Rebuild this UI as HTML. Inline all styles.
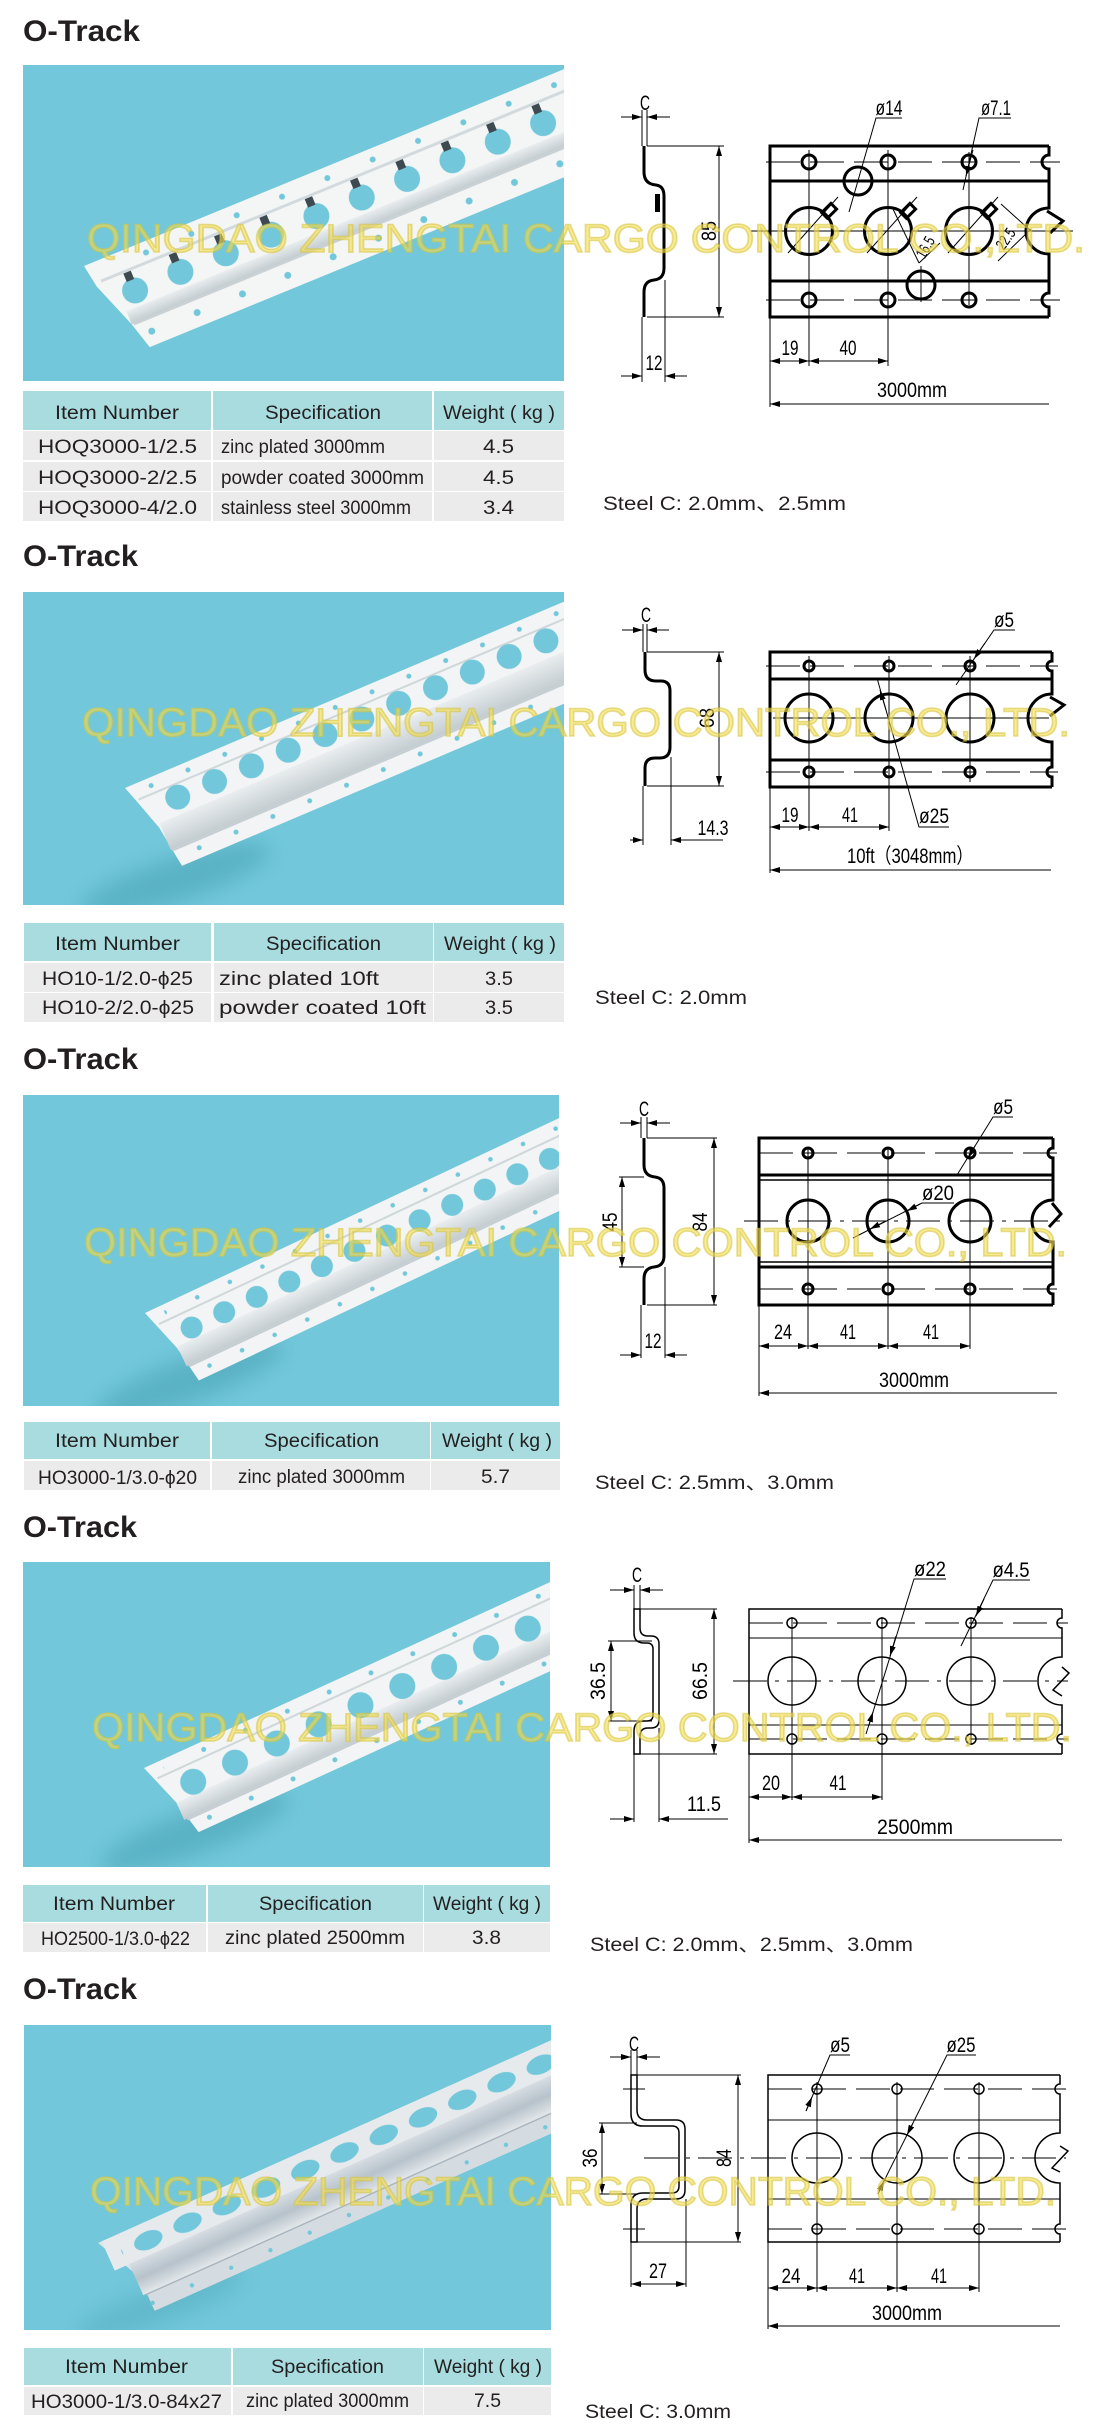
<!DOCTYPE html>
<html><head><meta charset="utf-8">
<style>
html,body{margin:0;padding:0;background:#fff;}
svg{display:block;}
.tt{font-family:"Liberation Sans",sans-serif;font-weight:bold;font-size:30px;fill:#231f20;}
.th{font-family:"Liberation Sans",sans-serif;font-size:19px;fill:#231f20;}
.td{font-family:"Liberation Sans","DejaVu Sans",sans-serif;font-size:19px;fill:#231f20;}
.st{font-family:"Liberation Sans","Noto Sans CJK SC",sans-serif;font-size:19px;fill:#231f20;}
.dm{font-family:"Liberation Sans","Noto Sans CJK SC",sans-serif;font-size:21px;fill:#000;}
.wm{font-family:"Liberation Sans",sans-serif;font-size:40px;fill:rgb(241,222,81);fill-opacity:.6;stroke:rgb(215,195,60);stroke-opacity:.55;stroke-width:1.6;}
.k{stroke:#000;fill:none;stroke-width:3;}
.k2{stroke:#000;fill:none;stroke-width:1.5;}
.n{stroke:#000;fill:none;stroke-width:1;}
.ds{stroke:#000;fill:none;stroke-width:1;stroke-dasharray:34 10;}
.dc{stroke:#000;fill:none;stroke-width:1;stroke-dasharray:34 8 4 8;}
.hb{fill:#a8dcdf;}
.rb{fill:#ebebeb;}
</style></head><body>
<svg width="1100" height="2427" viewBox="0 0 1100 2427" xmlns="http://www.w3.org/2000/svg">
<defs>
<marker id="ar" viewBox="0 0 10 6" refX="10" refY="3" markerWidth="10" markerHeight="6" markerUnits="userSpaceOnUse" orient="auto-start-reverse"><path d="M0,0L10,3L0,6z" fill="#000"/></marker>
<filter id="bl" x="-50%" y="-50%" width="200%" height="200%"><feGaussianBlur stdDeviation="10"/></filter>
<linearGradient id="gs" x1="0" y1="0" x2="0" y2="1"><stop offset="0" stop-color="#e9edef"/><stop offset="1" stop-color="#c3ccd0"/></linearGradient>
<linearGradient id="g5" x1="0" y1="0" x2="0" y2="1"><stop offset="0" stop-color="#d6dde3"/><stop offset=".5" stop-color="#b7c2ca"/><stop offset="1" stop-color="#e2e7ea"/></linearGradient>
<clipPath id="c1"><rect x="23" y="65" width="541" height="316"/></clipPath>
<clipPath id="c2"><rect x="23" y="592" width="541" height="313"/></clipPath>
<clipPath id="c3"><rect x="23" y="1095" width="536" height="311"/></clipPath>
<clipPath id="c4"><rect x="23" y="1562" width="527" height="305"/></clipPath>
<clipPath id="c5"><rect x="24" y="2025" width="527" height="305"/></clipPath>
<pattern id="p1" width="49" height="100" x="13.5" patternUnits="userSpaceOnUse">
 <circle cx="24.5" cy="42" r="13" fill="#72c8da"/>
 <rect x="20" y="22" width="8" height="9" fill="#3d4a50"/>
 <circle cx="0" cy="11" r="3" fill="#72c8da"/><circle cx="49" cy="11" r="3" fill="#72c8da"/>
 <circle cx="24.5" cy="86" r="3.5" fill="#72c8da"/>
</pattern>
<pattern id="p2" width="40" height="94" x="25" patternUnits="userSpaceOnUse">
 <circle cx="20" cy="29" r="12.5" fill="#72c8da"/>
 <circle cx="0" cy="8" r="2.5" fill="#72c8da"/><circle cx="40" cy="8" r="2.5" fill="#72c8da"/>
 <circle cx="20" cy="84" r="2.5" fill="#72c8da"/>
</pattern>
<pattern id="p3" width="36" height="84" x="18" patternUnits="userSpaceOnUse">
 <circle cx="18" cy="33" r="11" fill="#72c8da"/>
 <circle cx="0" cy="8" r="2.3" fill="#72c8da"/><circle cx="36" cy="8" r="2.3" fill="#72c8da"/>
 <circle cx="18" cy="75" r="2.3" fill="#72c8da"/>
</pattern>
<pattern id="p4" width="46" height="81" x="16" patternUnits="userSpaceOnUse">
 <circle cx="23" cy="33" r="13" fill="#72c8da"/>
 <circle cx="0" cy="8" r="2.5" fill="#72c8da"/><circle cx="46" cy="8" r="2.5" fill="#72c8da"/>
 <circle cx="23" cy="72" r="2.5" fill="#72c8da"/>
</pattern>
<pattern id="p5" width="43" height="85" x="25.5" patternUnits="userSpaceOnUse">
 <ellipse cx="21.5" cy="18" rx="15" ry="9" fill="#72c8da"/>
 <circle cx="0" cy="77" r="2.2" fill="#72c8da"/><circle cx="43" cy="77" r="2.2" fill="#72c8da"/>
</pattern>
</defs>

<!-- ================= SECTION 1 ================= -->
<text class="tt" x="23" y="41" textLength="117" lengthAdjust="spacingAndGlyphs">O-Track</text>
<g clip-path="url(#c1)">
<rect x="23" y="65" width="541" height="316" fill="#72c8da"/>
<g transform="translate(84,266) rotate(-22.3)">
 <path d="M0,0 H720 V100 H30 L22,72 L4,24 Z" fill="#f4f6f6"/>
 <rect x="10" y="19" width="710" height="3" fill="#d3dadd"/>
 <rect x="22" y="58" width="698" height="14" fill="url(#gs)"/>
 <rect x="24" y="72" width="696" height="2" fill="#c9d1d4"/>
 <rect x="20" y="0" width="700" height="100" fill="url(#p1)"/>
</g>
</g>
<rect class="hb" x="23" y="391" width="188" height="39"/><rect class="hb" x="213" y="391" width="219" height="39"/><rect class="hb" x="434" y="391" width="130" height="39"/>
<rect class="rb" x="23" y="431" width="188" height="29"/><rect class="rb" x="213" y="431" width="219" height="29"/><rect class="rb" x="434" y="431" width="130" height="29"/>
<rect class="rb" x="23" y="462" width="188" height="29"/><rect class="rb" x="213" y="462" width="219" height="29"/><rect class="rb" x="434" y="462" width="130" height="29"/>
<rect class="rb" x="23" y="492" width="188" height="29"/><rect class="rb" x="213" y="492" width="219" height="29"/><rect class="rb" x="434" y="492" width="130" height="29"/>
<text class="th" x="55" y="419" textLength="124" lengthAdjust="spacingAndGlyphs">Item Number</text>
<text class="th" x="265" y="419" textLength="116" lengthAdjust="spacingAndGlyphs">Specification</text>
<text class="th" x="443" y="419" textLength="112" lengthAdjust="spacingAndGlyphs">Weight ( kg )</text>
<text class="td" x="38" y="453" textLength="159" lengthAdjust="spacingAndGlyphs">HOQ3000-1/2.5</text>
<text class="td" x="221" y="453" textLength="164" lengthAdjust="spacingAndGlyphs">zinc plated 3000mm</text>
<text class="td" x="483" y="453" textLength="31" lengthAdjust="spacingAndGlyphs">4.5</text>
<text class="td" x="38" y="484" textLength="159" lengthAdjust="spacingAndGlyphs">HOQ3000-2/2.5</text>
<text class="td" x="221" y="484" textLength="203" lengthAdjust="spacingAndGlyphs">powder coated  3000mm</text>
<text class="td" x="483" y="484" textLength="31" lengthAdjust="spacingAndGlyphs">4.5</text>
<text class="td" x="38" y="514" textLength="159" lengthAdjust="spacingAndGlyphs">HOQ3000-4/2.0</text>
<text class="td" x="221" y="514" textLength="190" lengthAdjust="spacingAndGlyphs">stainless steel 3000mm</text>
<text class="td" x="483" y="514" textLength="31" lengthAdjust="spacingAndGlyphs">3.4</text>
<text class="st" x="603" y="510" textLength="243" lengthAdjust="spacingAndGlyphs">Steel C: 2.0mm、2.5mm</text>

<!-- drawing 1 -->
<path class="k" stroke-width="4" d="M644,146 V172 Q644,184 656,185 Q664,186 664,196 V268 Q664,279 654,280 Q644,281 644,292 V317"/>
<rect x="655" y="194" width="5" height="18" fill="#000"/>
<line class="n" x1="642" y1="110" x2="642" y2="146"/>
<line class="n" x1="647" y1="110" x2="647" y2="146"/>
<line class="n" x1="621" y1="117" x2="642" y2="117" marker-end="url(#ar)"/>
<line class="n" x1="647" y1="117" x2="670" y2="117" marker-start="url(#ar)"/>
<text class="dm" x="645" y="110" text-anchor="middle" textLength="10" lengthAdjust="spacingAndGlyphs">C</text>
<line class="n" x1="647" y1="146" x2="724" y2="146"/>
<line class="n" x1="647" y1="317" x2="724" y2="317"/>
<line class="n" x1="719" y1="146" x2="719" y2="317" marker-start="url(#ar)" marker-end="url(#ar)"/>
<text class="dm" transform="translate(716,231) rotate(-90)" text-anchor="middle" textLength="20" lengthAdjust="spacingAndGlyphs">85</text>
<line class="n" x1="642" y1="317" x2="642" y2="382"/>
<line class="n" x1="665" y1="280" x2="665" y2="382"/>
<line class="n" x1="621" y1="376" x2="642" y2="376" marker-end="url(#ar)"/>
<line class="n" x1="665" y1="376" x2="687" y2="376" marker-start="url(#ar)"/>
<text class="dm" x="654" y="370" text-anchor="middle" textLength="17" lengthAdjust="spacingAndGlyphs">12</text>
<path class="k" d="M1049,146 H770 V317 H1049"/>
<path class="k" d="M1049,146 V155 A7,7 0 0 0 1049,169 V208 A23,23 0 0 0 1049,254 V293 A7,7 0 0 0 1049,307 V317"/>
<polyline class="k" points="1047,211 1063,221 1050,233"/>
<line class="k" x1="770" y1="181" x2="1049" y2="181"/>
<line class="k" x1="770" y1="281" x2="1049" y2="281"/>
<line class="ds" x1="766" y1="162" x2="1060" y2="162"/>
<line class="ds" x1="766" y1="300" x2="1060" y2="300"/>
<line class="n" x1="751" y1="231" x2="1073" y2="231"/>
<g class="k" stroke-width="2.5">
<circle cx="809" cy="162" r="7"/><circle cx="888" cy="162" r="7"/><circle cx="969" cy="162" r="7"/>
<circle cx="809" cy="300" r="7"/><circle cx="888" cy="300" r="7"/><circle cx="969" cy="300" r="7"/>
<circle cx="809" cy="231" r="23.5"/><circle cx="888" cy="231" r="23.5"/><circle cx="969" cy="231" r="23.5"/>
<circle cx="858" cy="181" r="14"/><circle cx="921" cy="285" r="14"/>
<g transform="translate(809,231) rotate(-45)"><rect x="22" y="-4" width="13" height="8"/></g>
<g transform="translate(888,231) rotate(-45)"><rect x="22" y="-4" width="13" height="8"/></g>
<g transform="translate(969,231) rotate(-45)"><rect x="22" y="-4" width="13" height="8"/></g>
</g>
<line class="n" x1="788" y1="253" x2="838" y2="197"/>
<line class="n" x1="867" y1="253" x2="917" y2="197"/>
<line class="n" x1="948" y1="253" x2="998" y2="197"/>
<line class="n" x1="809" y1="150" x2="809" y2="366"/>
<line class="n" x1="888" y1="150" x2="888" y2="366"/>
<line class="n" x1="969" y1="152" x2="969" y2="305"/>
<line class="n" x1="921" y1="266" x2="921" y2="302"/>
<polyline class="n" points="849,212 876,118 902,118"/>
<text class="dm" x="889" y="115" text-anchor="middle" textLength="27" lengthAdjust="spacingAndGlyphs">ø14</text>
<polyline class="n" points="963,190 979,118 1011,118"/>
<line class="n" x1="973" y1="150" x2="966" y2="176" marker-end="url(#ar)"/>
<text class="dm" x="996" y="115" text-anchor="middle" textLength="30" lengthAdjust="spacingAndGlyphs">ø7.1</text>
<line class="n" x1="892" y1="207" x2="919" y2="263"/>
<line class="n" x1="919" y1="263" x2="940" y2="243"/>
<text class="dm" style="font-size:16px" transform="translate(930,250) rotate(-60)" text-anchor="middle" textLength="22" lengthAdjust="spacingAndGlyphs">16.5</text>
<line class="n" x1="1001" y1="204" x2="1031" y2="231"/>
<line class="n" x1="998" y1="261" x2="1031" y2="229"/>
<text class="dm" style="font-size:16px" transform="translate(1010,242) rotate(-55)" text-anchor="middle" textLength="22" lengthAdjust="spacingAndGlyphs">22.5</text>
<line class="n" x1="770" y1="317" x2="770" y2="407"/>
<line class="n" x1="770" y1="361" x2="809" y2="361" marker-start="url(#ar)" marker-end="url(#ar)"/>
<line class="n" x1="809" y1="361" x2="888" y2="361" marker-start="url(#ar)" marker-end="url(#ar)"/>
<text class="dm" x="790" y="355" text-anchor="middle" textLength="17" lengthAdjust="spacingAndGlyphs">19</text>
<text class="dm" x="848" y="355" text-anchor="middle" textLength="17" lengthAdjust="spacingAndGlyphs">40</text>
<line class="n" x1="770" y1="404" x2="1049" y2="404" marker-start="url(#ar)"/>
<text class="dm" x="912" y="397" text-anchor="middle" textLength="70" lengthAdjust="spacingAndGlyphs">3000mm</text>

<!-- ================= SECTION 2 ================= -->
<text class="tt" x="23" y="566" textLength="115" lengthAdjust="spacingAndGlyphs">O-Track</text>
<g clip-path="url(#c2)">
<rect x="23" y="592" width="541" height="313" fill="#72c8da"/>
<ellipse cx="175" cy="880" rx="100" ry="22" transform="rotate(-18 175 880)" fill="#3e97ab" opacity=".45" filter="url(#bl)"/>
<g transform="translate(125,788) rotate(-23)">
 <path d="M0,0 H720 V94 H22 L16,50 L6,18 Z" fill="#f2f4f5"/>
 <rect x="8" y="15" width="712" height="2" fill="#cfd7da"/>
 <rect x="18" y="46" width="702" height="29" fill="url(#gs)"/>
 <rect x="20" y="75" width="700" height="2" fill="#c5ced2"/>
 <rect x="20" y="0" width="700" height="94" fill="url(#p2)"/>
</g>
</g>
<rect class="hb" x="24" y="923" width="187" height="38"/><rect class="hb" x="214" y="923" width="219" height="38"/><rect class="hb" x="434" y="923" width="130" height="38"/>
<rect class="rb" x="24" y="963" width="187" height="29"/><rect class="rb" x="214" y="963" width="219" height="29"/><rect class="rb" x="434" y="963" width="130" height="29"/>
<rect class="rb" x="24" y="993" width="187" height="29"/><rect class="rb" x="214" y="993" width="219" height="29"/><rect class="rb" x="434" y="993" width="130" height="29"/>
<text class="th" x="55" y="950" textLength="125" lengthAdjust="spacingAndGlyphs">Item Number</text>
<text class="th" x="266" y="950" textLength="115" lengthAdjust="spacingAndGlyphs">Specification</text>
<text class="th" x="444" y="950" textLength="112" lengthAdjust="spacingAndGlyphs">Weight ( kg )</text>
<text class="td" x="42" y="985" textLength="151" lengthAdjust="spacingAndGlyphs">HO10-1/2.0-ϕ25</text>
<text class="td" x="219" y="985" textLength="160" lengthAdjust="spacingAndGlyphs">zinc plated 10ft</text>
<text class="td" x="485" y="985" textLength="28" lengthAdjust="spacingAndGlyphs">3.5</text>
<text class="td" x="42" y="1014" textLength="152" lengthAdjust="spacingAndGlyphs">HO10-2/2.0-ϕ25</text>
<text class="td" x="219" y="1014" textLength="207" lengthAdjust="spacingAndGlyphs">powder coated  10ft</text>
<text class="td" x="485" y="1014" textLength="28" lengthAdjust="spacingAndGlyphs">3.5</text>
<text class="st" x="595" y="1004" textLength="152" lengthAdjust="spacingAndGlyphs">Steel C: 2.0mm</text>

<!-- drawing 2 -->
<path class="k" stroke-width="4" d="M645,652 V670 Q645,681 656,681 H661 Q670,681 670,691 V747 Q670,758 660,758 H655 Q645,758 645,768 V786"/>
<line class="n" x1="643" y1="624" x2="643" y2="652"/>
<line class="n" x1="647" y1="624" x2="647" y2="652"/>
<line class="n" x1="622" y1="630" x2="643" y2="630" marker-end="url(#ar)"/>
<line class="n" x1="647" y1="630" x2="669" y2="630" marker-start="url(#ar)"/>
<text class="dm" x="646" y="622" text-anchor="middle" textLength="10" lengthAdjust="spacingAndGlyphs">C</text>
<line class="n" x1="647" y1="652" x2="724" y2="652"/>
<line class="n" x1="647" y1="786" x2="724" y2="786"/>
<line class="n" x1="719" y1="652" x2="719" y2="786" marker-start="url(#ar)" marker-end="url(#ar)"/>
<text class="dm" transform="translate(714,718) rotate(-90)" text-anchor="middle" textLength="20" lengthAdjust="spacingAndGlyphs">68</text>
<line class="n" x1="643" y1="786" x2="643" y2="845"/>
<line class="n" x1="671" y1="757" x2="671" y2="845"/>
<line class="n" x1="630" y1="840" x2="643" y2="840" marker-end="url(#ar)"/>
<line class="n" x1="671" y1="840" x2="723" y2="840" marker-start="url(#ar)"/>
<text class="dm" x="713" y="835" text-anchor="middle" textLength="31" lengthAdjust="spacingAndGlyphs">14.3</text>
<path class="k" d="M1052,652 H770 V787 H1052"/>
<path class="k" d="M1052,652 V661 A5,5 0 0 0 1052,671 V694 A24,24 0 0 0 1052,742 V767 A5,5 0 0 0 1052,777 V787"/>
<polyline class="k" points="1050,697 1064,705 1050,716"/>
<line class="k" x1="770" y1="679" x2="1052" y2="679"/>
<line class="k" x1="770" y1="760" x2="1052" y2="760"/>
<line class="ds" x1="766" y1="666" x2="1058" y2="666"/>
<line class="ds" x1="766" y1="772" x2="1058" y2="772"/>
<line class="n" x1="773" y1="718" x2="1049" y2="718"/>
<g class="k" stroke-width="2.5">
<circle cx="809" cy="666" r="5"/><circle cx="889" cy="666" r="5"/><circle cx="970" cy="666" r="5"/>
<circle cx="809" cy="772" r="5"/><circle cx="889" cy="772" r="5"/><circle cx="970" cy="772" r="5"/>
<circle cx="809" cy="718" r="24"/><circle cx="889" cy="718" r="24"/><circle cx="970" cy="718" r="24"/>
</g>
<line class="n" x1="809" y1="656" x2="809" y2="831"/>
<line class="n" x1="889" y1="656" x2="889" y2="831"/>
<line class="n" x1="970" y1="656" x2="970" y2="782"/>
<polyline class="n" points="956,685 994,630 1015,630"/>
<line class="n" x1="985" y1="643" x2="974" y2="659" marker-end="url(#ar)"/>
<text class="dm" x="1004" y="627" text-anchor="middle" textLength="20" lengthAdjust="spacingAndGlyphs">ø5</text>
<polyline class="n" points="877,678 919,827 949,827"/>
<line class="n" x1="886" y1="710" x2="880" y2="690" marker-end="url(#ar)"/>
<text class="dm" x="934" y="823" text-anchor="middle" textLength="30" lengthAdjust="spacingAndGlyphs">ø25</text>
<line class="n" x1="770" y1="787" x2="770" y2="873"/>
<line class="n" x1="770" y1="827" x2="809" y2="827" marker-start="url(#ar)" marker-end="url(#ar)"/>
<line class="n" x1="809" y1="827" x2="889" y2="827" marker-start="url(#ar)" marker-end="url(#ar)"/>
<text class="dm" x="790" y="822" text-anchor="middle" textLength="17" lengthAdjust="spacingAndGlyphs">19</text>
<text class="dm" x="850" y="822" text-anchor="middle" textLength="16" lengthAdjust="spacingAndGlyphs">41</text>
<line class="n" x1="770" y1="870" x2="1051" y2="870" marker-start="url(#ar)"/>
<text class="dm" x="910" y="863" text-anchor="middle" textLength="126" lengthAdjust="spacingAndGlyphs">10ft（3048mm）</text>

<!-- ================= SECTION 3 ================= -->
<text class="tt" x="23" y="1069" textLength="115" lengthAdjust="spacingAndGlyphs">O-Track</text>
<g clip-path="url(#c3)">
<rect x="23" y="1095" width="536" height="311" fill="#72c8da"/>
<ellipse cx="190" cy="1380" rx="100" ry="22" transform="rotate(-20 190 1380)" fill="#3e97ab" opacity=".45" filter="url(#bl)"/>
<g transform="translate(145,1313) rotate(-25.2)">
 <path d="M0,0 H720 V84 H20 L14,45 L5,16 Z" fill="#f2f4f5"/>
 <rect x="8" y="15" width="712" height="2" fill="#cfd7da"/>
 <rect x="15" y="44" width="705" height="22" fill="url(#gs)"/>
 <rect x="17" y="66" width="703" height="2" fill="#c5ced2"/>
 <rect x="18" y="0" width="702" height="84" fill="url(#p3)"/>
</g>
</g>
<rect class="hb" x="24" y="1422" width="186" height="37"/><rect class="hb" x="212" y="1422" width="218" height="37"/><rect class="hb" x="431" y="1422" width="129" height="37"/>
<rect class="rb" x="24" y="1461" width="186" height="29"/><rect class="rb" x="212" y="1461" width="218" height="29"/><rect class="rb" x="431" y="1461" width="129" height="29"/>
<text class="th" x="55" y="1447" textLength="124" lengthAdjust="spacingAndGlyphs">Item Number</text>
<text class="th" x="264" y="1447" textLength="115" lengthAdjust="spacingAndGlyphs">Specification</text>
<text class="th" x="442" y="1447" textLength="110" lengthAdjust="spacingAndGlyphs">Weight ( kg )</text>
<text class="td" x="38" y="1484" textLength="159" lengthAdjust="spacingAndGlyphs">HO3000-1/3.0-ϕ20</text>
<text class="td" x="238" y="1483" textLength="167" lengthAdjust="spacingAndGlyphs">zinc plated 3000mm</text>
<text class="td" x="481" y="1483" textLength="29" lengthAdjust="spacingAndGlyphs">5.7</text>
<text class="st" x="595" y="1489" textLength="239" lengthAdjust="spacingAndGlyphs">Steel C: 2.5mm、3.0mm</text>

<!-- drawing 3 -->
<path class="k" stroke-width="4" d="M644,1138 V1165 Q644,1176 655,1177 Q664,1178 664,1188 V1256 Q664,1266 654,1267 Q644,1268 644,1279 V1305"/>
<line class="n" x1="641" y1="1117" x2="641" y2="1138"/>
<line class="n" x1="647" y1="1117" x2="647" y2="1138"/>
<line class="n" x1="620" y1="1123" x2="641" y2="1123" marker-end="url(#ar)"/>
<line class="n" x1="647" y1="1123" x2="670" y2="1123" marker-start="url(#ar)"/>
<text class="dm" x="644" y="1116" text-anchor="middle" textLength="10" lengthAdjust="spacingAndGlyphs">C</text>
<line class="n" x1="619" y1="1177" x2="644" y2="1177"/>
<line class="n" x1="619" y1="1267" x2="644" y2="1267"/>
<line class="n" x1="622" y1="1177" x2="622" y2="1267" marker-start="url(#ar)" marker-end="url(#ar)"/>
<text class="dm" transform="translate(617,1222) rotate(-90)" text-anchor="middle" textLength="19" lengthAdjust="spacingAndGlyphs">45</text>
<line class="n" x1="647" y1="1138" x2="717" y2="1138"/>
<line class="n" x1="647" y1="1305" x2="717" y2="1305"/>
<line class="n" x1="714" y1="1138" x2="714" y2="1305" marker-start="url(#ar)" marker-end="url(#ar)"/>
<text class="dm" transform="translate(707,1222) rotate(-90)" text-anchor="middle" textLength="19" lengthAdjust="spacingAndGlyphs">84</text>
<line class="n" x1="641" y1="1305" x2="641" y2="1358"/>
<line class="n" x1="665" y1="1267" x2="665" y2="1358"/>
<line class="n" x1="620" y1="1355" x2="641" y2="1355" marker-end="url(#ar)"/>
<line class="n" x1="665" y1="1355" x2="687" y2="1355" marker-start="url(#ar)"/>
<text class="dm" x="653" y="1348" text-anchor="middle" textLength="17" lengthAdjust="spacingAndGlyphs">12</text>
<path class="k" d="M1053,1138 H759 V1305 H1053"/>
<path class="k" d="M1053,1138 V1148 A5,5 0 0 0 1053,1158 V1200 A21,21 0 0 0 1053,1242 V1284 A5,5 0 0 0 1053,1294 V1305"/>
<polyline class="k" points="1052,1203 1061,1214 1049,1227"/>
<line class="k" stroke-width="2.5" x1="759" y1="1175" x2="1053" y2="1175"/>
<line class="k2" x1="759" y1="1180" x2="1053" y2="1180"/>
<line class="k2" x1="759" y1="1262" x2="1053" y2="1262"/>
<line class="k" stroke-width="2.5" x1="759" y1="1267" x2="1053" y2="1267"/>
<line class="ds" x1="759" y1="1153" x2="1058" y2="1153"/>
<line class="ds" x1="759" y1="1289" x2="1058" y2="1289"/>
<line class="dc" x1="744" y1="1221" x2="1060" y2="1221"/>
<g class="k" stroke-width="2.5">
<circle cx="808" cy="1153" r="5"/><circle cx="888" cy="1153" r="5"/><circle cx="970" cy="1153" r="5"/>
<circle cx="808" cy="1289" r="5"/><circle cx="888" cy="1289" r="5"/><circle cx="970" cy="1289" r="5"/>
<circle cx="808" cy="1221" r="21"/><circle cx="888" cy="1221" r="21"/><circle cx="970" cy="1221" r="21"/>
</g>
<line class="n" x1="808" y1="1147" x2="808" y2="1349"/>
<line class="n" x1="888" y1="1147" x2="888" y2="1349"/>
<line class="n" x1="970" y1="1147" x2="970" y2="1349"/>
<polyline class="n" points="957,1175 993,1117 1013,1117"/>
<line class="n" x1="975" y1="1146" x2="968" y2="1158" marker-end="url(#ar)"/>
<text class="dm" x="1003" y="1114" text-anchor="middle" textLength="20" lengthAdjust="spacingAndGlyphs">ø5</text>
<polyline class="n" points="853,1238 922,1203 954,1203"/>
<line class="n" x1="884" y1="1222" x2="870" y2="1229" marker-end="url(#ar)"/>
<line class="n" x1="920" y1="1204" x2="907" y2="1211" marker-end="url(#ar)"/>
<text class="dm" x="938" y="1200" text-anchor="middle" textLength="32" lengthAdjust="spacingAndGlyphs">ø20</text>
<line class="n" x1="759" y1="1305" x2="759" y2="1396"/>
<line class="n" x1="759" y1="1346" x2="808" y2="1346" marker-start="url(#ar)" marker-end="url(#ar)"/>
<line class="n" x1="808" y1="1346" x2="888" y2="1346" marker-start="url(#ar)" marker-end="url(#ar)"/>
<line class="n" x1="888" y1="1346" x2="970" y2="1346" marker-start="url(#ar)" marker-end="url(#ar)"/>
<text class="dm" x="783" y="1339" text-anchor="middle" textLength="18" lengthAdjust="spacingAndGlyphs">24</text>
<text class="dm" x="848" y="1339" text-anchor="middle" textLength="16" lengthAdjust="spacingAndGlyphs">41</text>
<text class="dm" x="931" y="1339" text-anchor="middle" textLength="16" lengthAdjust="spacingAndGlyphs">41</text>
<line class="n" x1="759" y1="1393" x2="1057" y2="1393" marker-start="url(#ar)"/>
<text class="dm" x="914" y="1387" text-anchor="middle" textLength="70" lengthAdjust="spacingAndGlyphs">3000mm</text>

<!-- ================= SECTION 4 ================= -->
<text class="tt" x="23" y="1537" textLength="114" lengthAdjust="spacingAndGlyphs">O-Track</text>
<g clip-path="url(#c4)">
<rect x="23" y="1562" width="527" height="305" fill="#72c8da"/>
<ellipse cx="195" cy="1832" rx="100" ry="22" transform="rotate(-20 195 1832)" fill="#3e97ab" opacity=".45" filter="url(#bl)"/>
<g transform="translate(144,1768) rotate(-24.6)">
 <path d="M0,0 H720 V81 H23 L15,45 L5,15 Z" fill="#f2f4f5"/>
 <rect x="8" y="14" width="712" height="2" fill="#cfd7da"/>
 <rect x="15" y="45" width="705" height="19" fill="url(#gs)"/>
 <rect x="18" y="64" width="702" height="2" fill="#c5ced2"/>
 <rect x="18" y="0" width="702" height="81" fill="url(#p4)"/>
</g>
</g>
<rect class="hb" x="23" y="1885" width="183" height="37"/><rect class="hb" x="208" y="1885" width="215" height="37"/><rect class="hb" x="424" y="1885" width="126" height="37"/>
<rect class="rb" x="23" y="1923" width="183" height="29"/><rect class="rb" x="208" y="1923" width="215" height="29"/><rect class="rb" x="424" y="1923" width="126" height="29"/>
<text class="th" x="53" y="1910" textLength="122" lengthAdjust="spacingAndGlyphs">Item Number</text>
<text class="th" x="259" y="1910" textLength="113" lengthAdjust="spacingAndGlyphs">Specification</text>
<text class="th" x="433" y="1910" textLength="108" lengthAdjust="spacingAndGlyphs">Weight ( kg )</text>
<text class="td" x="41" y="1945" textLength="149" lengthAdjust="spacingAndGlyphs">HO2500-1/3.0-ϕ22</text>
<text class="td" x="225" y="1944" textLength="180" lengthAdjust="spacingAndGlyphs">zinc plated 2500mm</text>
<text class="td" x="472" y="1944" textLength="29" lengthAdjust="spacingAndGlyphs">3.8</text>
<text class="st" x="590" y="1951" textLength="323" lengthAdjust="spacingAndGlyphs">Steel C: 2.0mm、2.5mm、3.0mm</text>

<!-- drawing 4 -->
<path class="k2" d="M634,1609 V1633 Q634,1643 644,1643 H647 Q653,1643 653,1649 V1715 Q653,1721 647,1721 H644 Q634,1721 634,1731 V1754 H640 V1736 Q640,1728 648,1728 H651 Q659,1728 659,1720 V1644 Q659,1636 651,1636 H648 Q640,1636 640,1628 V1609 Z"/>
<line class="n" x1="634" y1="1585" x2="634" y2="1609"/>
<line class="n" x1="640" y1="1585" x2="640" y2="1609"/>
<line class="n" x1="610" y1="1590" x2="634" y2="1590" marker-end="url(#ar)"/>
<line class="n" x1="640" y1="1590" x2="663" y2="1590" marker-start="url(#ar)"/>
<text class="dm" x="637" y="1582" text-anchor="middle" textLength="10" lengthAdjust="spacingAndGlyphs">C</text>
<line class="n" x1="608" y1="1641" x2="652" y2="1641"/>
<line class="n" x1="608" y1="1721" x2="652" y2="1721"/>
<line class="n" x1="611" y1="1641" x2="611" y2="1721" marker-start="url(#ar)" marker-end="url(#ar)"/>
<text class="dm" transform="translate(605,1681) rotate(-90)" text-anchor="middle" textLength="38" lengthAdjust="spacingAndGlyphs">36.5</text>
<line class="n" x1="640" y1="1609" x2="717" y2="1609"/>
<line class="n" x1="640" y1="1754" x2="717" y2="1754"/>
<line class="n" x1="714" y1="1609" x2="714" y2="1754" marker-start="url(#ar)" marker-end="url(#ar)"/>
<text class="dm" transform="translate(707,1681) rotate(-90)" text-anchor="middle" textLength="38" lengthAdjust="spacingAndGlyphs">66.5</text>
<line class="n" x1="634" y1="1754" x2="634" y2="1822"/>
<line class="n" x1="659" y1="1728" x2="659" y2="1822"/>
<line class="n" x1="610" y1="1819" x2="634" y2="1819" marker-end="url(#ar)"/>
<line class="n" x1="659" y1="1819" x2="728" y2="1819" marker-start="url(#ar)"/>
<text class="dm" x="704" y="1811" text-anchor="middle" textLength="34" lengthAdjust="spacingAndGlyphs">11.5</text>
<path class="k2" d="M1062,1609 H749 V1754 H1062"/>
<path class="k2" d="M1062,1609 V1618 A5,5 0 0 0 1062,1628 V1657 A24,24 0 0 0 1062,1705 V1734 A5,5 0 0 0 1062,1744 V1754"/>
<polyline class="k2" points="1062,1667 1069,1673 1053,1690 1062,1696"/>
<line class="n" stroke-width="1.2" x1="749" y1="1638" x2="1062" y2="1638"/>
<line class="n" stroke-width="1.2" x1="749" y1="1725" x2="1062" y2="1725"/>
<line class="ds" x1="749" y1="1623" x2="1068" y2="1623"/>
<line class="ds" x1="749" y1="1739" x2="1068" y2="1739"/>
<line class="dc" x1="733" y1="1681" x2="1068" y2="1681"/>
<g class="k2">
<circle cx="792" cy="1623" r="5"/><circle cx="882" cy="1623" r="5"/><circle cx="971" cy="1623" r="5"/>
<circle cx="792" cy="1739" r="5"/><circle cx="882" cy="1739" r="5"/><circle cx="971" cy="1739" r="5"/>
<circle cx="792" cy="1681" r="24"/><circle cx="882" cy="1681" r="24"/><circle cx="971" cy="1681" r="24"/>
</g>
<line class="n" x1="792" y1="1617" x2="792" y2="1800"/>
<line class="n" x1="882" y1="1617" x2="882" y2="1800"/>
<line class="n" x1="971" y1="1617" x2="971" y2="1745"/>
<polyline class="n" points="869,1725 914,1579 946,1579"/>
<line class="n" x1="896" y1="1636" x2="890" y2="1656" marker-end="url(#ar)"/>
<line class="n" x1="866" y1="1734" x2="873" y2="1712" marker-end="url(#ar)"/>
<text class="dm" x="930" y="1576" text-anchor="middle" textLength="32" lengthAdjust="spacingAndGlyphs">ø22</text>
<polyline class="n" points="961,1646 993,1580 1030,1580"/>
<line class="n" x1="984" y1="1599" x2="976" y2="1616" marker-end="url(#ar)"/>
<text class="dm" x="1011" y="1577" text-anchor="middle" textLength="37" lengthAdjust="spacingAndGlyphs">ø4.5</text>
<line class="n" x1="749" y1="1754" x2="749" y2="1843"/>
<line class="n" x1="749" y1="1797" x2="792" y2="1797" marker-start="url(#ar)" marker-end="url(#ar)"/>
<line class="n" x1="792" y1="1797" x2="882" y2="1797" marker-start="url(#ar)" marker-end="url(#ar)"/>
<text class="dm" x="771" y="1790" text-anchor="middle" textLength="18" lengthAdjust="spacingAndGlyphs">20</text>
<text class="dm" x="838" y="1790" text-anchor="middle" textLength="17" lengthAdjust="spacingAndGlyphs">41</text>
<line class="n" x1="749" y1="1840" x2="1062" y2="1840" marker-start="url(#ar)"/>
<text class="dm" x="915" y="1834" text-anchor="middle" textLength="76" lengthAdjust="spacingAndGlyphs">2500mm</text>

<!-- ================= SECTION 5 ================= -->
<text class="tt" x="23" y="1999" textLength="114" lengthAdjust="spacingAndGlyphs">O-Track</text>
<g clip-path="url(#c5)">
<rect x="24" y="2025" width="527" height="305" fill="#72c8da"/>
<ellipse cx="160" cy="2305" rx="90" ry="18" transform="rotate(-20 160 2305)" fill="#3e97ab" opacity=".3" filter="url(#bl)"/>
<g transform="translate(98,2243) rotate(-24.1)">
 <path d="M0,0 H720 V85 H27 L20,40 L4,8 Z" fill="#dde3e7"/>
 <rect x="4" y="0" width="716" height="32" fill="#e6eaed"/>
 <rect x="20" y="32" width="700" height="34" fill="url(#g5)"/>
 <rect x="22" y="66" width="698" height="1.5" fill="#a9b4bc"/>
 <rect x="24" y="67.5" width="696" height="17.5" fill="#d5dce1"/>
 <rect x="18" y="0" width="702" height="85" fill="url(#p5)"/>
</g>
</g>
<rect class="hb" x="24" y="2348" width="207" height="37"/><rect class="hb" x="233" y="2348" width="190" height="37"/><rect class="hb" x="424" y="2348" width="127" height="37"/>
<rect class="rb" x="24" y="2387" width="207" height="28"/><rect class="rb" x="233" y="2387" width="190" height="28"/><rect class="rb" x="424" y="2387" width="127" height="28"/>
<text class="th" x="65" y="2373" textLength="123" lengthAdjust="spacingAndGlyphs">Item Number</text>
<text class="th" x="271" y="2373" textLength="113" lengthAdjust="spacingAndGlyphs">Specification</text>
<text class="th" x="434" y="2373" textLength="108" lengthAdjust="spacingAndGlyphs">Weight ( kg )</text>
<text class="td" x="31" y="2408" textLength="191" lengthAdjust="spacingAndGlyphs">HO3000-1/3.0-84x27</text>
<text class="td" x="246" y="2407" textLength="163" lengthAdjust="spacingAndGlyphs">zinc plated 3000mm</text>
<text class="td" x="474" y="2407" textLength="27" lengthAdjust="spacingAndGlyphs">7.5</text>
<text class="st" x="585" y="2418" textLength="146" lengthAdjust="spacingAndGlyphs">Steel C: 3.0mm</text>

<!-- drawing 5 -->
<path class="k2" d="M631,2075 V2114 Q631,2126 643,2126 H672 Q679,2126 679,2133 V2186 Q679,2193 672,2193 H643 Q631,2193 631,2205 V2242 H637 V2209 Q637,2199 647,2199 H676 Q685,2199 685,2190 V2129 Q685,2120 676,2120 H647 Q637,2120 637,2110 V2075 Z"/>
<line class="n" x1="623" y1="2089" x2="645" y2="2089"/>
<line class="n" x1="623" y1="2229" x2="645" y2="2229"/>
<line class="n" x1="631" y1="2050" x2="631" y2="2075"/>
<line class="n" x1="637" y1="2050" x2="637" y2="2075"/>
<line class="n" x1="610" y1="2057" x2="631" y2="2057" marker-end="url(#ar)"/>
<line class="n" x1="637" y1="2057" x2="660" y2="2057" marker-start="url(#ar)"/>
<text class="dm" x="634" y="2051" text-anchor="middle" textLength="10" lengthAdjust="spacingAndGlyphs">C</text>
<line class="n" x1="599" y1="2123" x2="637" y2="2123"/>
<line class="n" x1="599" y1="2194" x2="637" y2="2194"/>
<line class="n" x1="602" y1="2123" x2="602" y2="2194" marker-start="url(#ar)" marker-end="url(#ar)"/>
<text class="dm" transform="translate(597,2158) rotate(-90)" text-anchor="middle" textLength="19" lengthAdjust="spacingAndGlyphs">36</text>
<line class="n" x1="637" y1="2075" x2="741" y2="2075"/>
<line class="n" x1="637" y1="2242" x2="741" y2="2242"/>
<line class="n" x1="738" y1="2075" x2="738" y2="2242" marker-start="url(#ar)" marker-end="url(#ar)"/>
<text class="dm" transform="translate(731,2158) rotate(-90)" text-anchor="middle" textLength="18" lengthAdjust="spacingAndGlyphs">84</text>
<line class="dc" x1="644" y1="2158" x2="1066" y2="2158"/>
<line class="n" x1="631" y1="2242" x2="631" y2="2287"/>
<line class="n" x1="686" y1="2199" x2="686" y2="2287"/>
<line class="n" x1="631" y1="2284" x2="686" y2="2284" marker-start="url(#ar)" marker-end="url(#ar)"/>
<text class="dm" x="658" y="2278" text-anchor="middle" textLength="18" lengthAdjust="spacingAndGlyphs">27</text>
<path class="k2" d="M1060,2075 H768 V2242 H1060"/>
<path class="k2" d="M1060,2075 V2084 A5,5 0 0 0 1060,2094 V2133 A25,25 0 0 0 1060,2183 V2224 A5,5 0 0 0 1060,2234 V2242"/>
<polyline class="k2" points="1060,2146 1068,2151 1052,2168 1060,2172"/>
<line class="n" stroke-width="1.2" x1="768" y1="2120" x2="1060" y2="2120"/>
<line class="n" stroke-width="1.2" x1="768" y1="2199" x2="1060" y2="2199"/>
<line class="ds" x1="768" y1="2089" x2="1066" y2="2089"/>
<line class="ds" x1="768" y1="2229" x2="1066" y2="2229"/>
<line class="dc" x1="751" y1="2158" x2="768" y2="2158"/>
<g class="k2">
<circle cx="817" cy="2089" r="5"/><circle cx="897" cy="2089" r="5"/><circle cx="979" cy="2089" r="5"/>
<circle cx="817" cy="2229" r="5"/><circle cx="897" cy="2229" r="5"/><circle cx="979" cy="2229" r="5"/>
<circle cx="817" cy="2158" r="25"/><circle cx="897" cy="2158" r="25"/><circle cx="979" cy="2158" r="25"/>
</g>
<line class="n" x1="817" y1="2082" x2="817" y2="2292"/>
<line class="n" x1="897" y1="2082" x2="897" y2="2292"/>
<line class="n" x1="979" y1="2082" x2="979" y2="2292"/>
<polyline class="n" points="806,2111 830,2055 850,2055"/>
<line class="n" x1="806" y1="2111" x2="812" y2="2097" marker-end="url(#ar)"/>
<text class="dm" x="840" y="2052" text-anchor="middle" textLength="20" lengthAdjust="spacingAndGlyphs">ø5</text>
<polyline class="n" points="879,2191 947,2055 976,2055"/>
<line class="n" x1="878" y1="2194" x2="884" y2="2181" marker-end="url(#ar)"/>
<line class="n" x1="913" y1="2123" x2="907" y2="2135" marker-end="url(#ar)"/>
<text class="dm" x="961" y="2052" text-anchor="middle" textLength="29" lengthAdjust="spacingAndGlyphs">ø25</text>
<line class="n" x1="768" y1="2242" x2="768" y2="2329"/>
<line class="n" x1="768" y1="2288" x2="817" y2="2288" marker-start="url(#ar)" marker-end="url(#ar)"/>
<line class="n" x1="817" y1="2288" x2="897" y2="2288" marker-start="url(#ar)" marker-end="url(#ar)"/>
<line class="n" x1="897" y1="2288" x2="979" y2="2288" marker-start="url(#ar)" marker-end="url(#ar)"/>
<text class="dm" x="791" y="2283" text-anchor="middle" textLength="19" lengthAdjust="spacingAndGlyphs">24</text>
<text class="dm" x="857" y="2283" text-anchor="middle" textLength="16" lengthAdjust="spacingAndGlyphs">41</text>
<text class="dm" x="939" y="2283" text-anchor="middle" textLength="16" lengthAdjust="spacingAndGlyphs">41</text>
<line class="n" x1="768" y1="2326" x2="1060" y2="2326" marker-start="url(#ar)"/>
<text class="dm" x="907" y="2320" text-anchor="middle" textLength="70" lengthAdjust="spacingAndGlyphs">3000mm</text>

<!-- ================= WATERMARKS ================= -->
<text class="wm" x="87" y="252" textLength="998" lengthAdjust="spacingAndGlyphs">QINGDAO ZHENGTAI CARGO CONTROL CO.,LTD.</text>
<text class="wm" x="82" y="736" textLength="988" lengthAdjust="spacingAndGlyphs">QINGDAO ZHENGTAI CARGO CONTROL CO., LTD.</text>
<text class="wm" x="84" y="1256" textLength="983" lengthAdjust="spacingAndGlyphs">QINGDAO ZHENGTAI CARGO CONTROL CO., LTD.</text>
<text class="wm" x="92" y="1741" textLength="980" lengthAdjust="spacingAndGlyphs">QINGDAO ZHENGTAI CARGO CONTROL CO., LTD.</text>
<text class="wm" x="90" y="2205" textLength="966" lengthAdjust="spacingAndGlyphs">QINGDAO ZHENGTAI CARGO CONTROL CO., LTD.</text>
</svg>
</body></html>
